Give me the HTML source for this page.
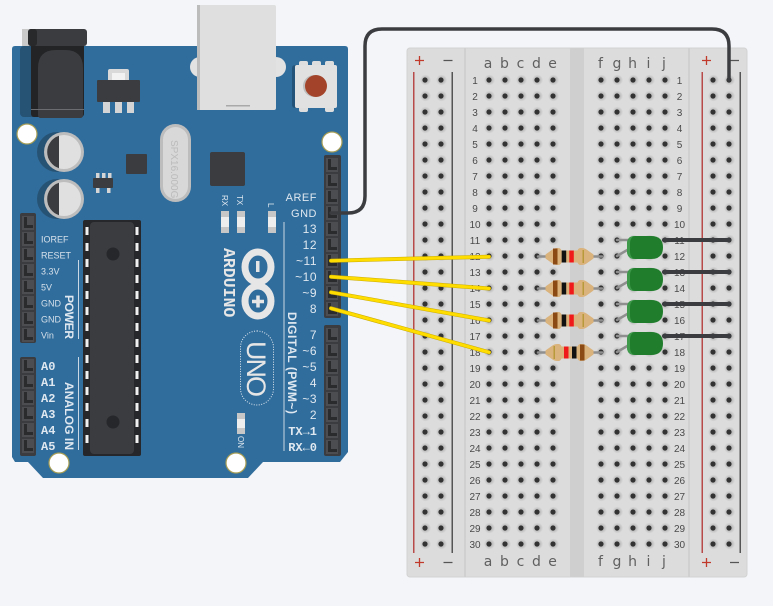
<!DOCTYPE html>
<html>
<head>
<meta charset="utf-8">
<style>
html,body{margin:0;padding:0;background:#f3f5f8;}
svg{display:block;}
.n{font:10px "Liberation Sans",sans-serif;fill:#4a4a4a;text-anchor:middle;}
.l{font:14px "DejaVu Sans","Liberation Sans",sans-serif;fill:#606060;text-anchor:middle;}
.p{font:9px "Liberation Sans",sans-serif;fill:#d5e0ea;}
.d{font:12px "Liberation Sans",sans-serif;fill:#dfe8f0;text-anchor:end;letter-spacing:.5px;}
.m{font:bold 12px "Liberation Mono",monospace;fill:#dfe8f0;}
.r{font:bold 12px "Liberation Sans",sans-serif;fill:#dfe8f0;}
.s{font:8px "Liberation Sans",sans-serif;fill:#dfe8f0;}
</style>
</head>
<body>
<svg width="773" height="606" viewBox="0 0 773 606" xmlns="http://www.w3.org/2000/svg">
<defs>
<radialGradient id="hg"><stop offset="0.5" stop-color="#bdbdbd"/><stop offset="1" stop-color="#bdbdbd" stop-opacity="0"/></radialGradient>
<pattern id="h1" x="417" y="72" width="16" height="16" patternUnits="userSpaceOnUse"><circle cx="8.500" cy="8" r="5.500" fill="url(#hg)"/><circle cx="8" cy="8" r="2.600" fill="#333"/></pattern>
<pattern id="h2" x="481" y="72" width="16" height="16" patternUnits="userSpaceOnUse"><circle cx="8.500" cy="8" r="5.500" fill="url(#hg)"/><circle cx="8" cy="8" r="2.600" fill="#333"/></pattern>
<pattern id="h3" x="593" y="72" width="16" height="16" patternUnits="userSpaceOnUse"><circle cx="8.500" cy="8" r="5.500" fill="url(#hg)"/><circle cx="8" cy="8" r="2.600" fill="#333"/></pattern>
<pattern id="h4" x="705" y="72" width="16" height="16" patternUnits="userSpaceOnUse"><circle cx="8.500" cy="8" r="5.500" fill="url(#hg)"/><circle cx="8" cy="8" r="2.600" fill="#333"/></pattern>
<pattern id="pinR" x="324" y="157" width="16" height="16" patternUnits="userSpaceOnUse"><rect x="2" y="1" width="12" height="14" fill="#4b4d50"/><path d="M4 2v11h9v-3H7V2z" fill="#292b2d"/></pattern>
<pattern id="pinR2" x="324" y="327" width="16" height="16" patternUnits="userSpaceOnUse"><rect x="2" y="1" width="12" height="14" fill="#4b4d50"/><path d="M4 2v11h9v-3H7V2z" fill="#292b2d"/></pattern>
<pattern id="pinL" x="20" y="215" width="16" height="16" patternUnits="userSpaceOnUse"><rect x="2" y="1" width="12" height="14" fill="#4b4d50"/><path d="M4 2v11h9v-3H7V2z" fill="#292b2d"/></pattern>
<pattern id="pinL2" x="20" y="358" width="16" height="16" patternUnits="userSpaceOnUse"><rect x="2" y="1" width="12" height="14" fill="#4b4d50"/><path d="M4 2v11h9v-3H7V2z" fill="#292b2d"/></pattern>
<path id="res" d="M-24 -2L-17 -7Q-15 -8.500 -12 -8.500H-11Q-9 -8.500 -8 -6H8Q9 -8.500 11 -8.500H12Q15 -8.500 17 -7L24 -2V2L17 7Q15 8.500 12 8.500H11Q9 8.500 8 6H-8Q-9 8.500 -11 8.500H-12Q-15 8.500 -17 7L-24 2Z" fill="#dab27b"/>
<g id="led"><path d="M0 8Q0 0 8 0H24Q36 0 36 11.500Q36 23 24 23H8Q0 23 0 15Z" fill="#1f7d2b"/><path d="M0 8Q0 0 8 0Q3 1 3 8V15Q3 22 8 23Q0 23 0 15Z" fill="#3f9a4c"/></g>
</defs>

<rect width="773" height="606" fill="#f3f5f8"/>

<!-- breadboard -->
<rect x="407" y="48" width="340" height="529" rx="3" fill="#dcdcdc" stroke="#d2d2d2"/>
<rect x="464" y="48" width="2" height="529" fill="#d0d0d0"/>
<rect x="570" y="48" width="14" height="529" fill="#cfcfcf"/>
<rect x="688" y="48" width="2" height="529" fill="#d0d0d0"/>
<rect x="413" y="72" width="1.500" height="481" fill="#b84a4a"/>
<rect x="451.500" y="72" width="1.500" height="481" fill="#555"/>
<rect x="701.500" y="72" width="1.500" height="481" fill="#b84a4a"/>
<rect x="739.500" y="72" width="1.500" height="481" fill="#555"/>
<rect x="417" y="72" width="32" height="480" fill="url(#h1)"/>
<rect x="481" y="72" width="80" height="480" fill="url(#h2)"/>
<rect x="593" y="72" width="80" height="480" fill="url(#h3)"/>
<rect x="705" y="72" width="32" height="480" fill="url(#h4)"/>

<!-- rail signs -->
<path d="M415 60.500h9M419.500 56v9M702 60.500h9M706.500 56v9M415 562.500h9M419.500 558v9M702 562.500h9M706.500 558v9" stroke="#c0392b" stroke-width="1.300" fill="none"/>
<path d="M443.500 60.500h9M729 60.500h10M443.500 562.500h9M730 562.500h9" stroke="#555" stroke-width="1.300" fill="none"/>

<!-- letters -->
<g class="l">
<text x="488" y="68">a</text><text x="504.500" y="68">b</text><text x="520.500" y="68">c</text><text x="536.500" y="68">d</text><text x="552.500" y="68">e</text>
<text x="600.500" y="68">f</text><text x="617" y="68">g</text><text x="632.500" y="68">h</text><text x="648.500" y="68">i</text><text x="664" y="68">j</text>
<text x="488" y="566">a</text><text x="504.500" y="566">b</text><text x="520.500" y="566">c</text><text x="536.500" y="566">d</text><text x="552.500" y="566">e</text>
<text x="600.500" y="566">f</text><text x="617" y="566">g</text><text x="632.500" y="566">h</text><text x="648.500" y="566">i</text><text x="664" y="566">j</text>
</g>

<!-- row numbers -->
<g class="n">
<text x="475" y="84">1</text><text x="475" y="100">2</text><text x="475" y="116">3</text><text x="475" y="132">4</text><text x="475" y="148">5</text><text x="475" y="164">6</text><text x="475" y="180">7</text><text x="475" y="196">8</text><text x="475" y="212">9</text><text x="475" y="228">10</text>
<text x="475" y="244">11</text><text x="475" y="260">12</text><text x="475" y="276">13</text><text x="475" y="292">14</text><text x="475" y="308">15</text><text x="475" y="324">16</text><text x="475" y="340">17</text><text x="475" y="356">18</text><text x="475" y="372">19</text><text x="475" y="388">20</text>
<text x="475" y="404">21</text><text x="475" y="420">22</text><text x="475" y="436">23</text><text x="475" y="452">24</text><text x="475" y="468">25</text><text x="475" y="484">26</text><text x="475" y="500">27</text><text x="475" y="516">28</text><text x="475" y="532">29</text><text x="475" y="548">30</text>
<text x="679.500" y="84">1</text><text x="679.500" y="100">2</text><text x="679.500" y="116">3</text><text x="679.500" y="132">4</text><text x="679.500" y="148">5</text><text x="679.500" y="164">6</text><text x="679.500" y="180">7</text><text x="679.500" y="196">8</text><text x="679.500" y="212">9</text><text x="679.500" y="228">10</text>
<text x="679.500" y="244">11</text><text x="679.500" y="260">12</text><text x="679.500" y="276">13</text><text x="679.500" y="292">14</text><text x="679.500" y="308">15</text><text x="679.500" y="324">16</text><text x="679.500" y="340">17</text><text x="679.500" y="356">18</text><text x="679.500" y="372">19</text><text x="679.500" y="388">20</text>
<text x="679.500" y="404">21</text><text x="679.500" y="420">22</text><text x="679.500" y="436">23</text><text x="679.500" y="452">24</text><text x="679.500" y="468">25</text><text x="679.500" y="484">26</text><text x="679.500" y="500">27</text><text x="679.500" y="516">28</text><text x="679.500" y="532">29</text><text x="679.500" y="548">30</text>
</g>

<!-- Arduino board -->
<path d="M15 46H345q3 0 3 3V452l-8 10H263l-15 16H43L28 462H15l-3 -5V49q0 -3 3 -3z" fill="#316d9c"/>
<circle cx="200" cy="67" r="10" fill="#e2e2e2"/><circle cx="276" cy="67" r="10" fill="#e2e2e2"/>

<!-- jack -->
<rect x="20" y="46" width="30" height="71" rx="4" fill="#265274"/>
<rect x="22" y="29" width="8" height="17" fill="#c9c9c9"/>
<rect x="31" y="40" width="53" height="77" rx="3" fill="#222426"/>
<path d="M38 68q0 -18 18 -18h9q18 0 18 18v47q0 3 -3 3H41q-3 0 -3 -3z" fill="#3a3c3f"/>
<rect x="28" y="29" width="59" height="17" rx="3" fill="#3a3c3f"/>
<rect x="28" y="29" width="9" height="17" rx="3" fill="#28292b"/>
<rect x="31" y="109" width="53" height="1" fill="#6a6c70"/>

<!-- regulator -->
<rect x="108" y="69" width="21" height="13" rx="2" fill="#d9d9d9"/><rect x="112" y="73" width="13" height="7" fill="#f2f2f2"/>
<rect x="97" y="80" width="43" height="22" rx="1" fill="#3a3c3f"/>
<rect x="103" y="102" width="7" height="11" fill="#d5d5d5"/><rect x="115" y="102" width="7" height="11" fill="#d5d5d5"/><rect x="127" y="102" width="7" height="11" fill="#d5d5d5"/>

<!-- USB -->
<rect x="197" y="5" width="79" height="105" rx="2" fill="#dfdfdf"/>
<rect x="197" y="5" width="3" height="105" fill="#bcbcbc"/>
<rect x="226" y="105" width="24" height="1.500" fill="#a9a9a9"/>

<!-- reset -->
<rect x="299" y="61" width="9" height="6" rx="2" fill="#dedede"/><rect x="312" y="61" width="9" height="6" rx="2" fill="#dedede"/><rect x="325" y="61" width="9" height="6" rx="2" fill="#dedede"/>
<rect x="299" y="106" width="9" height="6" rx="2" fill="#dedede"/><rect x="325" y="106" width="9" height="6" rx="2" fill="#dedede"/>
<rect x="292" y="65" width="44" height="43" rx="3" fill="#245379"/>
<rect x="295" y="65" width="42" height="43" rx="2" fill="#e1e1e1"/>
<circle cx="314" cy="86" r="11" fill="#bdbdbd"/><circle cx="316" cy="86" r="11" fill="#a3442a"/>

<!-- mount holes -->
<circle cx="27" cy="134" r="10" fill="#fff" stroke="#a59c54" stroke-width="1.200"/>
<circle cx="332" cy="142" r="10" fill="#fff" stroke="#a59c54" stroke-width="1.200"/>
<circle cx="59" cy="463" r="10" fill="#fff" stroke="#a59c54" stroke-width="1.200"/>
<circle cx="236" cy="463" r="10" fill="#fff" stroke="#a59c54" stroke-width="1.200"/>

<!-- capacitors -->
<circle cx="57" cy="152" r="20" fill="#265274"/><circle cx="57" cy="199" r="20" fill="#265274"/>
<circle cx="64" cy="152" r="20" fill="#bdbdbd"/><circle cx="64" cy="199" r="20" fill="#bdbdbd"/>
<circle cx="64" cy="152" r="17" fill="#e0e0e0"/><circle cx="64" cy="199" r="17" fill="#e0e0e0"/>
<path d="M59 135.800a17 17 0 0 0 0 32.400z" fill="#3a3c3f"/><path d="M59 182.800a17 17 0 0 0 0 32.400z" fill="#3a3c3f"/>

<!-- small ICs -->
<rect x="126" y="154" width="21" height="20" rx="1" fill="#3a3c3f"/>
<rect x="210" y="152" width="35" height="34" rx="2" fill="#3a3c3f"/>
<rect x="96" y="173" width="3.500" height="5" fill="#d5d5d5"/><rect x="102" y="173" width="3.500" height="5" fill="#d5d5d5"/><rect x="108" y="173" width="3.500" height="5" fill="#d5d5d5"/>
<rect x="96" y="188" width="3.500" height="5" fill="#d5d5d5"/><rect x="107" y="188" width="3.500" height="5" fill="#d5d5d5"/>
<rect x="93" y="178" width="20" height="10" rx="1" fill="#3a3c3f"/>

<!-- crystal -->
<rect x="160" y="124" width="31" height="78" rx="15.500" fill="#bdbdbd"/>
<rect x="163" y="127" width="25" height="72" rx="12.500" fill="#d8d8d8"/>
<text transform="translate(171 140) rotate(90)" style="font:10px 'Liberation Sans',sans-serif;fill:#bbb">SPX16.000G</text>

<!-- on-board LEDs -->
<g>
<rect x="221" y="211" width="8" height="22" fill="#c7c7c7"/><rect x="221" y="217" width="8" height="10" fill="#eee"/>
<rect x="237" y="211" width="8" height="22" fill="#c7c7c7"/><rect x="237" y="217" width="8" height="10" fill="#eee"/>
<rect x="268" y="211" width="8" height="22" fill="#c7c7c7"/><rect x="268" y="217" width="8" height="10" fill="#eee"/>
<rect x="237" y="413" width="8" height="21" fill="#c7c7c7"/><rect x="237" y="419" width="8" height="9" fill="#eee"/>
</g>
<text class="s" transform="translate(222 195) rotate(90)">RX</text>
<text class="s" transform="translate(237 195) rotate(90)">TX</text>
<text class="s" transform="translate(268 203) rotate(90)">L</text>
<text class="s" transform="translate(238 436) rotate(90)">ON</text>

<!-- ATmega -->
<rect x="83" y="220" width="58" height="236" rx="2" fill="#25272a"/>
<rect x="90" y="222" width="44" height="232" rx="4" fill="#3a3c3f"/>
<circle cx="113" cy="254" r="6.500" fill="#25272a"/><circle cx="113" cy="422" r="6.500" fill="#25272a"/>
<path d="M87 226V450M137 226V450" stroke="#f0f0f0" stroke-width="3" stroke-dasharray="8 8" stroke-dashoffset="-1" fill="none"/>

<!-- headers -->
<rect x="324" y="155" width="17" height="163" rx="2" fill="#3a3c3f"/>
<rect x="324" y="325" width="17" height="131" rx="2" fill="#3a3c3f"/>
<rect x="20" y="213" width="16" height="130" rx="2" fill="#3a3c3f"/>
<rect x="20" y="357" width="16" height="99" rx="2" fill="#3a3c3f"/>
<rect x="324" y="157" width="16" height="160" fill="url(#pinR)"/>
<rect x="324" y="327" width="16" height="128" fill="url(#pinR2)"/>
<rect x="20" y="215" width="16" height="127" fill="url(#pinL)"/>
<rect x="20" y="358" width="16" height="97" fill="url(#pinL2)"/>

<!-- guide lines -->
<path d="M78.500 260V339M78.500 357V450M284 222V451" stroke="#c9d8e4" stroke-width="1" fill="none"/>

<!-- left labels -->
<text class="p" x="41" y="242.500">IOREF</text><text class="p" x="41" y="258.500">RESET</text><text class="p" x="41" y="274.500">3.3V</text><text class="p" x="41" y="290.500">5V</text><text class="p" x="41" y="306.500">GND</text><text class="p" x="41" y="322.500">GND</text><text class="p" x="41" y="338.500">Vin</text>
<text class="m" x="41" y="370">A0</text><text class="m" x="41" y="386">A1</text><text class="m" x="41" y="402">A2</text><text class="m" x="41" y="418">A3</text><text class="m" x="41" y="434">A4</text><text class="m" x="41" y="450">A5</text>
<text class="r" transform="translate(65 295) rotate(90)" textLength="44">POWER</text>
<text class="r" transform="translate(65 382) rotate(90)" textLength="68">ANALOG IN</text>

<!-- right labels -->
<text class="d" x="317" y="201" style="font-size:11px">AREF</text><text class="d" x="317" y="217" style="font-size:11px">GND</text>
<text class="d" x="317" y="233">13</text><text class="d" x="317" y="249">12</text><text class="d" x="317" y="265">~11</text><text class="d" x="317" y="281">~10</text><text class="d" x="317" y="297">~9</text><text class="d" x="317" y="313">8</text>
<text class="d" x="317" y="339">7</text><text class="d" x="317" y="355">~6</text><text class="d" x="317" y="371">~5</text><text class="d" x="317" y="387">4</text><text class="d" x="317" y="403">~3</text><text class="d" x="317" y="419">2</text>
<text class="m" x="317" y="435" text-anchor="end">TX→1</text><text class="m" x="317" y="451" text-anchor="end">RX←0</text>
<text class="r" transform="translate(288 312) rotate(90)" textLength="102">DIGITAL (PWM~)</text>

<!-- logo -->
<ellipse cx="258" cy="267" rx="13" ry="15" fill="none" stroke="#e6e6e6" stroke-width="7"/>
<ellipse cx="258" cy="301" rx="13" ry="15" fill="none" stroke="#e6e6e6" stroke-width="7"/>
<rect x="256" y="261" width="3.500" height="11" fill="#e6e6e6"/>
<path d="M252 301.500h12M258 295.500v12" stroke="#e6e6e6" stroke-width="3.500" fill="none"/>
<text transform="translate(224 248) rotate(90)" style="font:bold 16.500px 'Liberation Mono',monospace;fill:#e6e6e6">ARDUINO</text>
<rect x="240.500" y="331" width="33" height="74" rx="16.500" fill="none" stroke="#dfe8f0" stroke-width="1" stroke-dasharray="1 1.500"/>
<text transform="translate(247 341) rotate(90)" style="font:27px 'Liberation Sans',sans-serif;fill:#e6e6e6" textLength="56">UNO</text>

<!-- resistors -->
<g>
<path d="M538 256.500h64M538 288.500h64M538 320.500h64M538 352.500h64" stroke="#8f8f8f" stroke-width="2.500" stroke-linecap="round" fill="none"/>
<use href="#res" x="569.500" y="256.500"/><use href="#res" x="569.500" y="288.500"/><use href="#res" x="569.500" y="320.500"/><use href="#res" x="569.500" y="352.500"/>
<g><rect x="553" y="248.500" width="4.500" height="16" fill="#8b4a14"/><rect x="561.700" y="250.500" width="4.500" height="12" fill="#111"/><rect x="569.300" y="250.500" width="4.500" height="12" fill="#f01a1a"/><rect x="582.500" y="250" width="1.500" height="13" fill="#b89a3a"/></g>
<g transform="translate(0 32)"><rect x="553" y="248.500" width="4.500" height="16" fill="#8b4a14"/><rect x="561.700" y="250.500" width="4.500" height="12" fill="#111"/><rect x="569.300" y="250.500" width="4.500" height="12" fill="#f01a1a"/><rect x="582.500" y="250" width="1.500" height="13" fill="#b89a3a"/></g>
<g transform="translate(0 64)"><rect x="553" y="248.500" width="4.500" height="16" fill="#8b4a14"/><rect x="561.700" y="250.500" width="4.500" height="12" fill="#111"/><rect x="569.300" y="250.500" width="4.500" height="12" fill="#f01a1a"/><rect x="582.500" y="250" width="1.500" height="13" fill="#b89a3a"/></g>
<rect x="553.500" y="346" width="1.500" height="13" fill="#b89a3a"/><rect x="564" y="346.500" width="4.500" height="12" fill="#f01a1a"/><rect x="572" y="346.500" width="4.500" height="12" fill="#111"/><rect x="580" y="344.500" width="4.500" height="16" fill="#8b4a14"/>
</g>

<!-- LED legs and wires -->
<path d="M617 240h12M617 256l12 -7M617 272h12M617 288l12 -7M617 304h12M617 320l12 -7M617 336h12M617 352l12 -7" stroke="#8f8f8f" stroke-width="2.500" stroke-linecap="round" fill="none"/>
<path d="M664 240H729M664 272H729M664 304H729M664 336H729" stroke="#3a3c3f" stroke-width="4" stroke-linecap="round" fill="none"/>
<use href="#led" x="627" y="236"/><use href="#led" x="627" y="268"/><use href="#led" x="627" y="300"/><use href="#led" x="627" y="332"/>

<!-- wires -->
<path d="M331 213H348Q365 213 365 196V46Q365 29 382 29H712Q729 29 729 46V80" fill="none" stroke="#3a3c3f" stroke-width="3.500" stroke-linecap="round"/>
<g stroke="#c9aa00" stroke-width="4" stroke-linecap="round" fill="none">
<path d="M331 260.700L489 256.700M331 276.700L489 288.500M331 292.300L489 320.500M331 308.300L489 352.300"/>
</g>
<g stroke="#ffdd00" stroke-width="3" stroke-linecap="round" fill="none">
<path d="M331 260.700L489 256.700M331 276.700L489 288.500M331 292.300L489 320.500M331 308.300L489 352.300"/>
</g>
</svg>
</body>
</html>
